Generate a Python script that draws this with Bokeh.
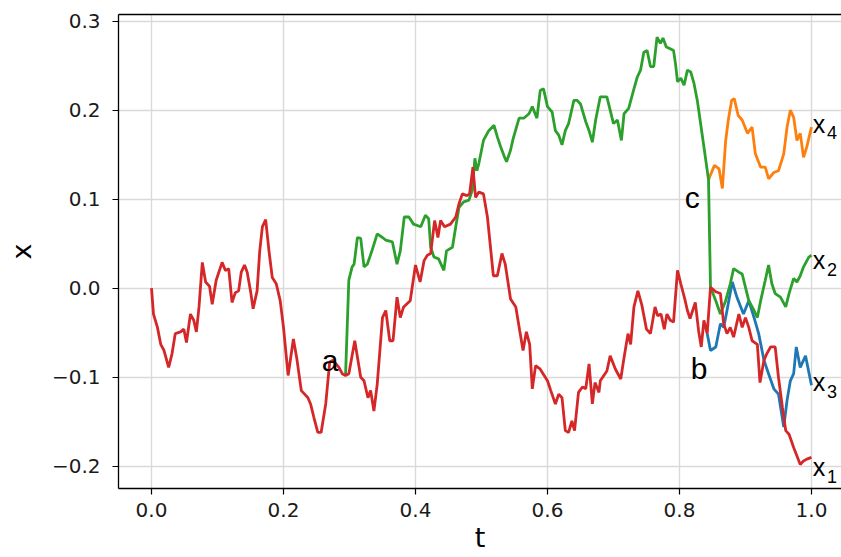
from bokeh.plotting import figure
from bokeh.models import FixedTicker, CustomJSTickFormatter, LinearAxis, Range1d, ColumnDataSource
from bokeh.core.properties import value
from bokeh.embed import file_html
from bokeh.resources import INLINE

# ---- sample paths ---------------------------------------------------------
# x1 (red): full path from t = 0
t_x1 = [0.000, 0.003, 0.009, 0.014, 0.019, 0.026, 0.031, 0.036, 0.044, 0.049,
        0.053, 0.059, 0.064, 0.068, 0.072, 0.077, 0.082, 0.088, 0.092, 0.098,
        0.107, 0.112, 0.117, 0.122, 0.127, 0.132, 0.136, 0.141, 0.145, 0.150,
        0.154, 0.160, 0.164, 0.168, 0.173, 0.178, 0.183, 0.189, 0.195, 0.200,
        0.207, 0.215, 0.220, 0.227, 0.232, 0.237, 0.241, 0.246, 0.252, 0.257,
        0.264, 0.270, 0.275, 0.284, 0.289, 0.294, 0.299, 0.308, 0.317, 0.322,
        0.328, 0.332, 0.337, 0.342, 0.350, 0.355, 0.361, 0.366, 0.372, 0.377,
        0.382, 0.392, 0.400, 0.407, 0.413, 0.418, 0.423, 0.429, 0.434, 0.438,
        0.444, 0.453, 0.461, 0.466, 0.471, 0.478, 0.482, 0.487, 0.491, 0.496,
        0.503, 0.509, 0.518, 0.524, 0.531, 0.536, 0.544, 0.552, 0.558, 0.563,
        0.568, 0.573, 0.577, 0.582, 0.589, 0.600, 0.605, 0.612, 0.617, 0.622,
        0.627, 0.632, 0.637, 0.641, 0.647, 0.653, 0.658, 0.663, 0.668, 0.672,
        0.678, 0.680, 0.690, 0.695, 0.703, 0.711, 0.716, 0.722, 0.726, 0.731,
        0.737, 0.743, 0.750, 0.756, 0.763, 0.767, 0.772, 0.777, 0.781, 0.786,
        0.791, 0.797, 0.802, 0.808, 0.812, 0.816, 0.824, 0.829, 0.833, 0.837,
        0.842, 0.847, 0.855, 0.862, 0.867, 0.872, 0.877, 0.882, 0.890, 0.895,
        0.900, 0.905, 0.910, 0.918, 0.922, 0.928, 0.932, 0.938, 0.945, 0.950,
        0.956, 0.961, 0.966, 0.973, 0.983, 0.988, 0.993, 1.000]
x_x1 = [0.000, -0.029, -0.044, -0.063, -0.070, -0.089, -0.074, -0.051, -0.049, -0.046,
        -0.061, -0.029, -0.036, -0.049, -0.021, 0.029, 0.007, 0.002, -0.018, 0.009,
        0.029, 0.020, 0.022, -0.016, -0.005, -0.003, 0.018, 0.026, 0.018, -0.003,
        -0.023, -0.003, 0.042, 0.069, 0.077, 0.042, 0.012, 0.005, -0.014, -0.044,
        -0.098, -0.057, -0.078, -0.115, -0.119, -0.123, -0.130, -0.145, -0.162, -0.162,
        -0.130, -0.083, -0.081, -0.089, -0.096, -0.098, -0.096, -0.059, -0.100, -0.104,
        -0.123, -0.115, -0.138, -0.108, -0.033, -0.025, -0.059, -0.059, -0.010, -0.033,
        -0.021, -0.014, 0.026, 0.007, 0.031, 0.037, 0.039, 0.076, 0.057, 0.076,
        0.069, 0.072, 0.080, 0.095, 0.106, 0.104, 0.106, 0.136, 0.102, 0.108,
        0.106, 0.080, 0.014, 0.014, 0.039, 0.027, -0.012, -0.021, -0.048, -0.070,
        -0.049, -0.063, -0.113, -0.087, -0.091, -0.104, -0.115, -0.130, -0.119, -0.123,
        -0.160, -0.162, -0.149, -0.160, -0.117, -0.111, -0.113, -0.085, -0.130, -0.106,
        -0.117, -0.104, -0.093, -0.076, -0.091, -0.102, -0.078, -0.051, -0.063, -0.021,
        -0.003, -0.019, -0.046, -0.051, -0.021, -0.031, -0.029, -0.046, -0.029, -0.036,
        -0.038, 0.020, 0.005, -0.012, -0.025, -0.034, -0.016, -0.048, -0.066, -0.036,
        -0.051, 0.001, -0.004, -0.006, -0.040, -0.051, -0.044, -0.055, -0.029, -0.044,
        -0.033, -0.044, -0.059, -0.063, -0.106, -0.081, -0.074, -0.066, -0.066, -0.100,
        -0.134, -0.160, -0.164, -0.179, -0.198, -0.194, -0.192, -0.190]

# x2 (green): splits from x1 at a
t_x2 = [0.294, 0.299, 0.304, 0.307, 0.312, 0.317, 0.322, 0.327, 0.334, 0.342,
        0.350, 0.355, 0.365, 0.372, 0.377, 0.383, 0.390, 0.397, 0.408, 0.415,
        0.420, 0.423, 0.428, 0.435, 0.443, 0.447, 0.456, 0.461, 0.466, 0.473,
        0.481, 0.486, 0.490, 0.493, 0.496, 0.503, 0.511, 0.519, 0.524, 0.529,
        0.534, 0.538, 0.544, 0.548, 0.557, 0.564, 0.572, 0.577, 0.584, 0.589,
        0.594, 0.600, 0.607, 0.612, 0.617, 0.622, 0.627, 0.632, 0.640, 0.645,
        0.650, 0.658, 0.663, 0.668, 0.673, 0.680, 0.690, 0.695, 0.700, 0.706,
        0.712, 0.716, 0.723, 0.731, 0.736, 0.741, 0.746, 0.751, 0.756, 0.761,
        0.766, 0.771, 0.775, 0.780, 0.786, 0.791, 0.794, 0.797, 0.802, 0.807,
        0.812, 0.817, 0.822, 0.827, 0.832, 0.837, 0.844, 0.847, 0.855, 0.862,
        0.870, 0.877, 0.882, 0.890, 0.895, 0.900, 0.905, 0.913, 0.918, 0.923,
        0.930, 0.935, 0.940, 0.945, 0.953, 0.961, 0.966, 0.973, 0.978, 0.983,
        0.988, 0.996, 1.000]
x_x2 = [-0.098, 0.009, 0.024, 0.027, 0.057, 0.056, 0.024, 0.027, 0.042, 0.061,
        0.057, 0.054, 0.052, 0.027, 0.042, 0.080, 0.080, 0.072, 0.069, 0.082,
        0.078, 0.046, 0.035, 0.033, 0.020, 0.042, 0.046, 0.069, 0.091, 0.097,
        0.099, 0.110, 0.146, 0.132, 0.140, 0.166, 0.177, 0.183, 0.170, 0.159,
        0.149, 0.142, 0.155, 0.168, 0.191, 0.191, 0.196, 0.204, 0.191, 0.222,
        0.224, 0.204, 0.198, 0.177, 0.172, 0.161, 0.177, 0.185, 0.211, 0.211,
        0.207, 0.187, 0.177, 0.164, 0.189, 0.215, 0.215, 0.200, 0.185, 0.189,
        0.166, 0.196, 0.202, 0.224, 0.237, 0.245, 0.265, 0.267, 0.249, 0.249,
        0.282, 0.275, 0.281, 0.271, 0.269, 0.267, 0.252, 0.232, 0.236, 0.228,
        0.245, 0.243, 0.230, 0.211, 0.185, 0.159, 0.122, 0.001, -0.014, -0.029,
        -0.014, 0.005, 0.022, 0.018, 0.016, 0.001, -0.014, -0.025, -0.033, -0.014,
        0.009, 0.026, 0.005, -0.006, -0.010, -0.021, -0.006, 0.011, 0.007, 0.014,
        0.024, 0.035, 0.037]

# x3 (blue): splits from x1 at b
t_x3 = [0.842, 0.847, 0.855, 0.862, 0.867, 0.872, 0.880, 0.887, 0.897, 0.905,
        0.913, 0.920, 0.928, 0.935, 0.943, 0.950, 0.958, 0.963, 0.968, 0.973,
        0.977, 0.983, 0.991, 1.000]
x_x3 = [-0.051, -0.070, -0.066, -0.040, -0.044, -0.025, 0.007, -0.010, -0.029, -0.014,
        -0.033, -0.051, -0.081, -0.096, -0.113, -0.119, -0.156, -0.126, -0.104, -0.096,
        -0.066, -0.089, -0.076, -0.109]

# x4 (orange): splits from x2 at c
t_x4 = [0.844, 0.853, 0.860, 0.865, 0.870, 0.874, 0.879, 0.883, 0.889, 0.895,
        0.903, 0.910, 0.915, 0.923, 0.930, 0.935, 0.943, 0.950, 0.958, 0.963,
        0.968, 0.973, 0.978, 0.983, 0.988, 0.993, 1.000]
x_x4 = [0.122, 0.138, 0.134, 0.112, 0.166, 0.189, 0.211, 0.213, 0.194, 0.189,
        0.174, 0.181, 0.151, 0.136, 0.136, 0.123, 0.130, 0.132, 0.151, 0.181,
        0.200, 0.192, 0.166, 0.174, 0.147, 0.159, 0.181]

x_ticks = [0.0, 0.2, 0.4, 0.6, 0.8, 1.0]
y_ticks = [-0.2, -0.1, 0.0, 0.1, 0.2, 0.3]

# branch-point letters and end-of-path names
point_names = ["a", "b", "c"]
path_names = ["x", "x", "x", "x"]
path_subs = ["4", "2", "3", "1"]

# ---- figure ---------------------------------------------------------------
p = figure(width=841, height=557, output_backend="svg", toolbar_location=None,
           x_range=Range1d(-0.05, 1.0455), y_range=Range1d(-0.225, 0.3075),
           min_border_left=118, min_border_right=0, min_border_top=14,
           min_border_bottom=69)
p.outline_line_color = None
p.background_fill_color = "white"
p.border_fill_color = "white"

tick_fmt = CustomJSTickFormatter(code="return tick.toFixed(1).replace('-', '\u2212');")

for ax in (p.xaxis[0], p.yaxis[0]):
    ax.formatter = tick_fmt
    ax.major_tick_in = 0
    ax.major_tick_out = 6
    ax.minor_tick_line_color = None
    ax.major_tick_line_color = "black"
    ax.major_tick_line_width = 1.2
    ax.axis_line_color = "black"
    ax.axis_line_width = 1.3
    ax.major_label_text_font = "DejaVu Sans"
    ax.major_label_text_font_size = "20px"
    ax.major_label_text_color = "#1a1a1a"
    ax.axis_label_text_font = "DejaVu Sans"
    ax.axis_label_text_font_size = "27px"
    ax.axis_label_text_font_style = "normal"
    ax.axis_label_text_color = "black"

p.xaxis.ticker = FixedTicker(ticks=x_ticks)
p.yaxis.ticker = FixedTicker(ticks=y_ticks)
p.xaxis.axis_label = "t"
p.yaxis.axis_label = "x"
p.xaxis.major_label_standoff = 8
p.xaxis.axis_label_standoff = 2
p.yaxis.major_label_standoff = 12
p.yaxis.axis_label_standoff = 12

# top spine only (no right spine)
top = LinearAxis(ticker=FixedTicker(ticks=[]), major_tick_out=0, major_tick_in=0,
                 minor_tick_out=0, minor_tick_in=0,
                 major_label_text_font_size="0px",
                 axis_line_color="black", axis_line_width=1.3)
p.add_layout(top, "above")

p.grid.grid_line_color = "#d9d9d9"
p.grid.grid_line_width = 1.4

# draw order: blue, orange, green, red
p.line(t_x3, x_x3, line_color="#1f77b4", line_width=2.8)
p.line(t_x4, x_x4, line_color="#ff7f0e", line_width=2.8)
p.line(t_x2, x_x2, line_color="#2ca02c", line_width=2.8)
p.line(t_x1, x_x1, line_color="#d62728", line_width=2.8)

# letters at the branch points
letters = ColumnDataSource(dict(t=[0.258, 0.817, 0.808], y=[-0.0813, -0.0907, 0.1024],
                                s=point_names))
p.text(x="t", y="y", text="s", source=letters, text_font=value("Liberation Sans"),
       text_font_size="30px", text_color="black", text_align="left",
       text_baseline="alphabetic")

# path names with subscripts at the right end
base_y = [0.185, 0.0312, -0.1057, -0.2013]
names = ColumnDataSource(dict(t=[1.002] * 4, y=base_y, s=path_names))
subs = ColumnDataSource(dict(t=[1.0235] * 4, y=[v - 0.010 for v in base_y], s=path_subs))
p.text(x="t", y="y", text="s", source=names, text_font=value("Liberation Sans"),
       text_font_size="25px", text_color="black", text_align="left",
       text_baseline="alphabetic")
p.text(x="t", y="y", text="s", source=subs, text_font=value("Liberation Sans"),
       text_font_size="18px", text_color="black", text_align="left",
       text_baseline="alphabetic")

open("out.html", "w").write(file_html(p, INLINE))
